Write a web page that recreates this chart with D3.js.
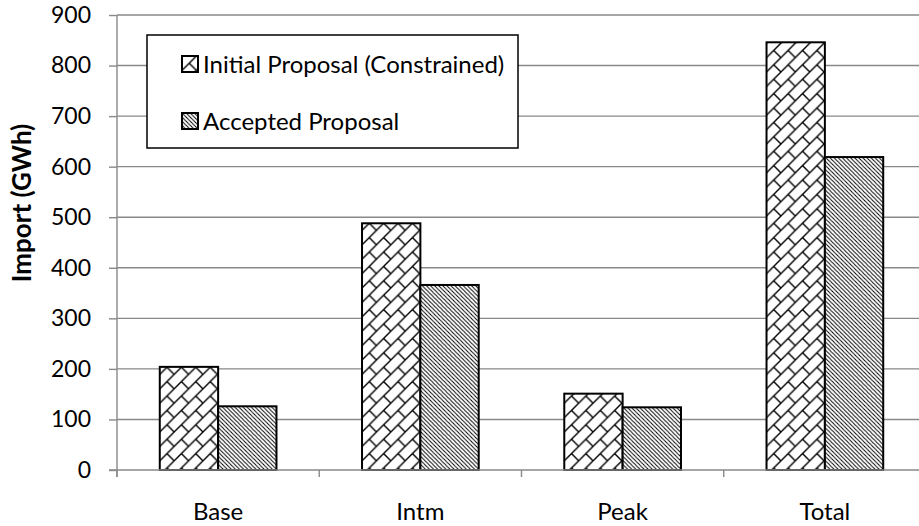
<!DOCTYPE html>
<html>
<head>
<meta charset="utf-8">
<script src="https://cdn.jsdelivr.net/npm/d3@7"></script>
<style>
  body { margin: 0; background: #fff; }
  text { font-family: Lato, "Liberation Sans", sans-serif; fill: #000; }
</style>
</head>
<body>
<svg id="chart" width="919" height="526"></svg>
<script>
// Import volumes (GWh) per load block
const categories = ["Base", "Intm", "Peak", "Total"];
const seriesNames = ["Initial Proposal (Constrained)", "Accepted Proposal"];
const initialValues = [204, 488, 151, 846];
const acceptedValues = [126, 366, 124, 619];
const yTickValues = [0, 100, 200, 300, 400, 500, 600, 700, 800, 900];
const yTitle = "Import (GWh)";

const plot = { left: 117, right: 926, top: 15, bottom: 470 };
const gridColor = "#898989";

const svg = d3.select("#chart");

// Fill patterns: diagonal brick and narrow downward diagonal
const defs = svg.append("defs");
const s = 14.4;
const brick = defs.append("pattern")
  .attr("id", "brick").attr("patternUnits", "userSpaceOnUse")
  .attr("width", s).attr("height", s);
brick.append("rect").attr("width", s).attr("height", s).attr("fill", "#fff");
brick.append("path")
  .attr("d", `M0,${s} L${s},0 M-1,1 L1,-1 M${s - 1},${s + 1} L${s + 1},${s - 1} M${s / 2},${s / 2} L${s},${s}`)
  .attr("stroke", "#000").attr("stroke-width", 1.4).attr("fill", "none");

const t = 4.1;
const stripe = defs.append("pattern")
  .attr("id", "stripe").attr("patternUnits", "userSpaceOnUse")
  .attr("width", t).attr("height", t);
stripe.append("rect").attr("width", t).attr("height", t).attr("fill", "#fff");
stripe.append("path")
  .attr("d", `M0,0 L${t},${t} M-1,${t - 1} L1,${t + 1} M${t - 1},-1 L${t + 1},1`)
  .attr("stroke", "#000").attr("stroke-width", 1).attr("fill", "none");

const fills = ["url(#brick)", "url(#stripe)"];

// Scales
const x = d3.scaleBand()
  .domain(categories)
  .range([plot.left, plot.right])
  .paddingInner(0.423)
  .paddingOuter(0.2115);

const xs = d3.scaleBand()
  .domain(d3.range(seriesNames.length))
  .range([0, x.bandwidth()]);

const y = d3.scaleLinear()
  .domain([0, 900])
  .range([plot.bottom, plot.top]);

// Horizontal gridlines
svg.append("g")
  .selectAll("line")
  .data(yTickValues.filter(v => v > 0))
  .join("line")
  .attr("x1", plot.left).attr("x2", plot.right)
  .attr("y1", d => y(d)).attr("y2", d => y(d))
  .attr("stroke", gridColor).attr("stroke-width", 1.4);

// Bars
const rows = categories.map((c, i) => ({ c, vals: [initialValues[i], acceptedValues[i]] }));
const groups = svg.append("g")
  .selectAll("g")
  .data(rows)
  .join("g")
  .attr("transform", d => `translate(${x(d.c)},0)`);

groups.selectAll("rect")
  .data(d => d.vals.map((v, k) => ({ v, k })))
  .join("rect")
  .attr("x", d => xs(d.k))
  .attr("width", xs.bandwidth())
  .attr("y", d => y(d.v))
  .attr("height", d => y(0) - y(d.v))
  .attr("fill", d => fills[d.k])
  .attr("stroke", "#000")
  .attr("stroke-width", 2);

// Y axis
const yAxis = svg.append("g")
  .attr("transform", `translate(${plot.left},0)`)
  .call(d3.axisLeft(y).tickValues(yTickValues).tickSize(8).tickPadding(18).tickSizeOuter(0));
yAxis.select(".domain").attr("stroke", gridColor).attr("stroke-width", 1.4)
  .attr("d", `M0,${plot.top} V${plot.bottom + 7}`);
yAxis.selectAll(".tick line").attr("stroke", gridColor).attr("stroke-width", 1.4);
yAxis.selectAll(".tick text")
  .attr("font-family", "Lato, 'Liberation Sans', sans-serif")
  .attr("font-size", 23).attr("fill", "#000");

// X axis baseline, category separators and labels
const xAxis = svg.append("g");
xAxis.append("line")
  .attr("x1", plot.left - 8).attr("x2", plot.right)
  .attr("y1", y(0)).attr("y2", y(0))
  .attr("stroke", gridColor).attr("stroke-width", 1.4);
const boundaries = categories.map(c => x(c) + x.bandwidth() / 2 - x.step() / 2);
boundaries.push(plot.right);
xAxis.selectAll("line.sep")
  .data(boundaries)
  .join("line")
  .attr("class", "sep")
  .attr("x1", d => d).attr("x2", d => d)
  .attr("y1", y(0)).attr("y2", y(0) + 7)
  .attr("stroke", gridColor).attr("stroke-width", 1.4);
xAxis.selectAll("text")
  .data(categories)
  .join("text")
  .attr("x", d => x(d) + x.bandwidth() / 2)
  .attr("y", 520)
  .attr("text-anchor", "middle")
  .attr("font-size", 24)
  .text(d => d);

// Y axis title
svg.append("text")
  .attr("transform", "translate(31,203) rotate(-90)")
  .attr("text-anchor", "middle")
  .attr("font-size", 26)
  .attr("font-weight", "bold")
  .text(yTitle);

// Legend
const legend = svg.append("g");
legend.append("rect")
  .attr("x", 147).attr("y", 35).attr("width", 371).attr("height", 113)
  .attr("fill", "#fff").attr("stroke", "#000").attr("stroke-width", 1.5);
const items = legend.selectAll("g")
  .data(seriesNames)
  .join("g")
  .attr("transform", (d, i) => `translate(182,${56 + i * 57})`);
items.append("rect")
  .attr("width", 16).attr("height", 16)
  .attr("fill", (d, i) => fills[i])
  .attr("stroke", "#000").attr("stroke-width", 2);
items.append("text")
  .attr("x", 21).attr("y", 8)
  .attr("dy", "0.36em")
  .attr("font-size", 24)
  .text(d => d);
</script>
</body>
</html>
